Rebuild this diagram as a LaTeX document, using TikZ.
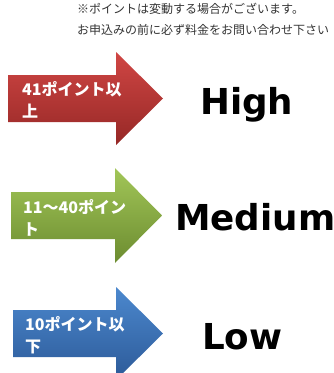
\documentclass[tikz,border=0pt]{standalone}
\usepackage{fontspec}
\usepackage{tikz}
\usetikzlibrary{positioning}
\newfontfamily\jpfont{Noto Sans CJK JP}
\newfontfamily\levelfont{DejaVu Sans}
\definecolor{RedTop}{RGB}{208,70,68}
\definecolor{RedBottom}{RGB}{150,40,38}
\definecolor{GreenTop}{RGB}{162,198,88}
\definecolor{GreenBottom}{RGB}{108,140,48}
\definecolor{BlueTop}{RGB}{76,136,206}
\definecolor{BlueBottom}{RGB}{44,90,152}
\begin{document}
\begin{tikzpicture}[x=1pt, y=-1pt,
    note/.style={anchor=base west, inner sep=0pt, text=black!80, font=\jpfont\fontsize{12}{14}\selectfont},
    points/.style={anchor=west, inner sep=0pt, align=left, text=white, font=\jpfont\bfseries\fontsize{16}{22}\selectfont},
    level/.style={anchor=base west, inner sep=0pt, font=\levelfont\bfseries\fontsize{35.7}{40}\selectfont},
    redarrow/.style={top color=RedTop, bottom color=RedBottom},
    greenarrow/.style={top color=GreenTop, bottom color=GreenBottom},
    bluearrow/.style={top color=BlueTop, bottom color=BlueBottom}]
    \useasboundingbox (0,0) rectangle (333,373);
    \node[note] (remark) at (77,13.8) {※ポイントは変動する場合がございます。};
    \node[note] (inquiry) at (77,34) {お申込みの前に必ず料金をお問い合わせ下さい};

    \path[redarrow] (8,75) -- (116,75) -- (116,52) -- (163,98.5) -- (116,145) -- (116,122) -- (8,122) -- cycle;
    \path[greenarrow] (11,192) -- (115,192) -- (115,168) -- (162,215.5) -- (115,263) -- (115,239) -- (11,239) -- cycle;
    \path[bluearrow] (13,310) -- (116,310) -- (116,287) -- (163,333.5) -- (116,380) -- (116,357) -- (13,357) -- cycle;

    \node[points] (high points) at (22,99.5) {41ポイント以\\上};
    \node[points] (medium points) at (23,217.5) {11～40ポイン\\ト};
    \node[points] (low points) at (25,335) {10ポイント以\\下};

    \node[level] (high) at (200,114) {High};
    \node[level] (medium) at (175,230) {Medium};
    \node[level] (low) at (202,349) {Low};
\end{tikzpicture}
\end{document}
